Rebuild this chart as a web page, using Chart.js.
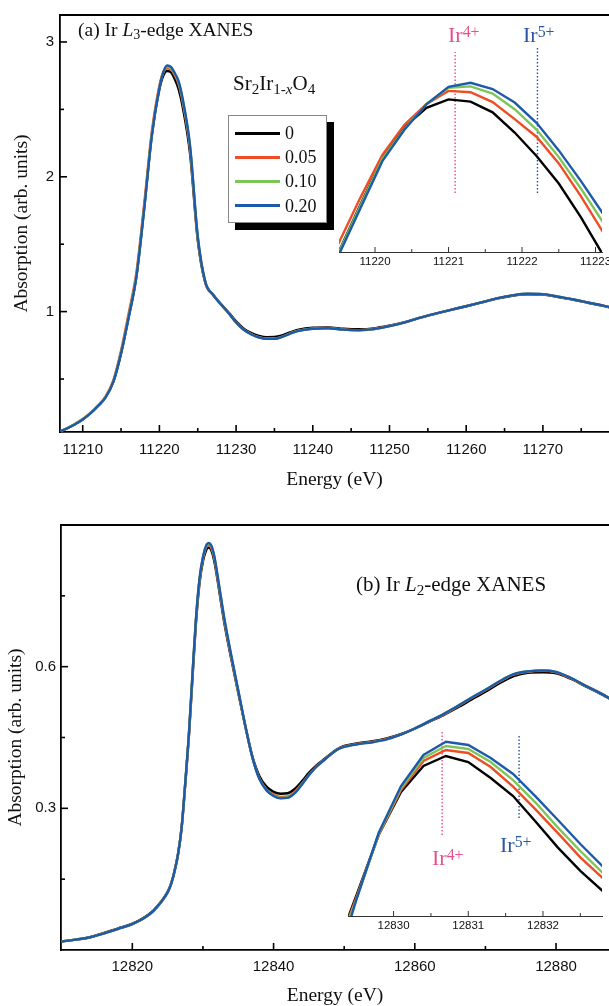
<!DOCTYPE html>
<html>
<head>
<meta charset="utf-8">
<title>Sr2Ir1-xO4 Ir L-edge XANES</title>
<script src="https://cdn.jsdelivr.net/npm/chart.js@4/dist/chart.umd.min.js"></script>
<style>
  body { margin: 0; background: #fff; }
  #page { position: relative; width: 609px; height: 1006px; overflow: hidden;
          font-family: 'Liberation Serif', 'Times New Roman', serif; color: #111; }
  canvas { position: absolute; }
  .lbl { position: absolute; line-height: 1; white-space: nowrap; z-index: 3; }
  .lbl .dn { position: relative; top: 0.24em; font-size: 0.72em; }
  .lbl .up { position: relative; top: -0.3em; font-size: 0.72em; }
  #legendBox { position: absolute; left: 228px; top: 115px; width: 97px; height: 106px;
               border: 1px solid #888; background: #fff; box-shadow: 7px 7px 0 #000; z-index: 2; }
  .swatch { position: absolute; left: 235px; width: 45px; height: 2.5px; z-index: 3; }
</style>
</head>
<body>
<div id="page">
  <canvas id="chartL3" width="609" height="500" style="left:0;top:0;width:609px;height:500px"></canvas>
  <canvas id="chartL3Zoom" width="283" height="244" style="left:339px;top:30px;width:283px;height:244px"></canvas>
  <canvas id="chartL2" width="609" height="506" style="left:0;top:500px;width:609px;height:506px"></canvas>
  <canvas id="chartL2Zoom" width="274" height="238" style="left:348px;top:700px;width:274px;height:238px"></canvas>

  <div class="lbl" style="left:78px;top:20px;font-size:19.5px">(a) Ir <i>L</i><span class="dn">3</span>-edge XANES</div>
  <div class="lbl" style="left:356px;top:574px;font-size:21px">(b) Ir <i>L</i><span class="dn">2</span>-edge XANES</div>

  <div class="lbl" style="left:233px;top:73px;font-size:21px">Sr<span class="dn">2</span>Ir<span class="dn">1-<i>x</i></span>O<span class="dn">4</span></div>
  <div id="legendBox"></div>

  <div class="lbl" style="left:448px;top:24px;font-size:22px;color:#e8508c">Ir<span class="up">4+</span></div>
  <div class="lbl" style="left:523px;top:24px;font-size:22px;color:#2c58a2">Ir<span class="up">5+</span></div>
  <div class="lbl" style="left:432px;top:847px;font-size:22px;color:#e8508c">Ir<span class="up">4+</span></div>
  <div class="lbl" style="left:500px;top:834px;font-size:22px;color:#2c58a2">Ir<span class="up">5+</span></div>
</div>

<script>
// Doping levels x in Sr2Ir(1-x)O4 and their line colours
const seriesLabels = ['0', '0.05', '0.10', '0.20'];
const seriesColors = ['#000000', '#ee4d25', '#7dc558', '#1d5aab'];

// Ir L3 edge, full range
const energyL3 = [11207, 11208, 11209, 11210, 11211, 11212, 11213, 11214, 11215, 11216, 11217, 11218, 11219, 11220,
  11220.5, 11221, 11221.5, 11222, 11222.5, 11223, 11224, 11225, 11226, 11227, 11228, 11229, 11230, 11231, 11232,
  11233, 11234, 11235, 11236, 11237, 11238, 11240, 11242, 11244, 11246, 11248, 11250, 11252, 11254, 11256, 11258,
  11260, 11262, 11264, 11266, 11268, 11270, 11272, 11274, 11276, 11278, 11279];
const absL3_x0 = [0.110, 0.135, 0.165, 0.200, 0.245, 0.300, 0.365, 0.480, 0.690, 0.960, 1.260, 1.760, 2.300, 2.650,
  2.750, 2.785, 2.775, 2.725, 2.650, 2.530, 2.170, 1.530, 1.210, 1.125, 1.058, 0.995, 0.928, 0.874, 0.840,
  0.820, 0.811, 0.812, 0.824, 0.845, 0.864, 0.881, 0.883, 0.873, 0.869, 0.876, 0.896, 0.922, 0.955, 0.985, 1.013,
  1.040, 1.068, 1.097, 1.118, 1.128, 1.127, 1.108, 1.088, 1.064, 1.041, 1.028];
const absL3_x005 = [0.110, 0.136, 0.167, 0.203, 0.249, 0.305, 0.372, 0.492, 0.712, 0.990, 1.290, 1.790, 2.330, 2.675,
  2.775, 2.805, 2.798, 2.752, 2.688, 2.566, 2.205, 1.545, 1.215, 1.123, 1.055, 0.990, 0.920, 0.866, 0.832,
  0.810, 0.800, 0.800, 0.814, 0.837, 0.857, 0.875, 0.878, 0.867, 0.863, 0.871, 0.893, 0.920, 0.955, 0.985, 1.013,
  1.040, 1.068, 1.098, 1.120, 1.131, 1.129, 1.109, 1.089, 1.065, 1.042, 1.029];
const absL3_x010 = [0.110, 0.135, 0.166, 0.201, 0.246, 0.302, 0.367, 0.484, 0.696, 0.968, 1.268, 1.760, 2.310, 2.665,
  2.775, 2.815, 2.808, 2.762, 2.700, 2.580, 2.220, 1.552, 1.218, 1.124, 1.055, 0.990, 0.920, 0.865, 0.831,
  0.809, 0.799, 0.799, 0.813, 0.836, 0.856, 0.874, 0.877, 0.866, 0.862, 0.870, 0.892, 0.920, 0.955, 0.985, 1.013,
  1.040, 1.068, 1.098, 1.120, 1.132, 1.130, 1.110, 1.090, 1.066, 1.043, 1.030];
const absL3_x020 = [0.110, 0.135, 0.165, 0.200, 0.245, 0.300, 0.365, 0.480, 0.690, 0.960, 1.260, 1.750, 2.300, 2.660,
  2.775, 2.825, 2.815, 2.770, 2.710, 2.590, 2.230, 1.560, 1.220, 1.125, 1.055, 0.990, 0.920, 0.865, 0.830,
  0.808, 0.798, 0.798, 0.812, 0.835, 0.855, 0.873, 0.877, 0.866, 0.862, 0.870, 0.892, 0.920, 0.955, 0.985, 1.013,
  1.040, 1.068, 1.098, 1.120, 1.132, 1.130, 1.110, 1.090, 1.066, 1.043, 1.030];

// Ir L3 white-line top, zoomed
const energyL3Zoom = [11219.5, 11219.8, 11220.1, 11220.4, 11220.7, 11221.0, 11221.3, 11221.6, 11221.9, 11222.2, 11222.5, 11222.8, 11223.1];
const zoomL3_x0   = [2.448, 2.555, 2.660, 2.729, 2.772, 2.791, 2.786, 2.762, 2.717, 2.664, 2.603, 2.528, 2.444];
const zoomL3_x005 = [2.468, 2.571, 2.667, 2.734, 2.781, 2.810, 2.807, 2.785, 2.747, 2.707, 2.648, 2.575, 2.495];
const zoomL3_x010 = [2.446, 2.553, 2.658, 2.725, 2.781, 2.817, 2.820, 2.804, 2.769, 2.723, 2.662, 2.592, 2.517];
const zoomL3_x020 = [2.441, 2.547, 2.653, 2.723, 2.780, 2.819, 2.828, 2.814, 2.784, 2.738, 2.677, 2.609, 2.536];

// Ir L2 edge, full range
const energyL2 = [12810, 12812, 12814, 12816, 12818, 12820, 12821, 12822, 12823, 12824, 12825, 12825.5, 12826, 12826.5,
  12827, 12827.5, 12828, 12828.5, 12829, 12829.5, 12830, 12830.5, 12830.8, 12831.2, 12831.6, 12832, 12832.5, 12833,
  12834, 12835, 12836, 12837, 12838, 12839, 12840, 12841, 12842, 12843, 12844, 12845, 12846, 12847, 12848, 12849,
  12850, 12852, 12854, 12856, 12858, 12860, 12862, 12864, 12866, 12868, 12870, 12872, 12874, 12876, 12878, 12880,
  12882, 12884, 12886, 12888];
const absL2_x0 = [0.018, 0.022, 0.027, 0.036, 0.046, 0.056, 0.063, 0.072, 0.084, 0.101, 0.123, 0.141, 0.169, 0.206,
  0.262, 0.352, 0.450, 0.572, 0.690, 0.775, 0.823, 0.848, 0.852, 0.846, 0.824, 0.790, 0.742, 0.695,
  0.617, 0.545, 0.474, 0.410, 0.368, 0.346, 0.335, 0.331, 0.332, 0.341, 0.357, 0.375, 0.390, 0.402, 0.414, 0.425,
  0.432, 0.438, 0.442, 0.448, 0.457, 0.469, 0.483, 0.497, 0.513, 0.530, 0.547, 0.565, 0.580, 0.587, 0.588, 0.586,
  0.575, 0.560, 0.545, 0.529];
const absL2_x005 = [0.018, 0.022, 0.027, 0.035, 0.045, 0.055, 0.062, 0.071, 0.083, 0.100, 0.122, 0.140, 0.168, 0.205,
  0.262, 0.354, 0.453, 0.577, 0.696, 0.781, 0.829, 0.854, 0.857, 0.851, 0.830, 0.795, 0.747, 0.700,
  0.621, 0.547, 0.474, 0.408, 0.363, 0.340, 0.329, 0.324, 0.325, 0.335, 0.352, 0.371, 0.388, 0.401, 0.413, 0.424,
  0.431, 0.437, 0.441, 0.447, 0.456, 0.469, 0.484, 0.498, 0.515, 0.533, 0.550, 0.568, 0.583, 0.589, 0.591, 0.588,
  0.576, 0.561, 0.546, 0.530];
const absL2_x010 = [0.018, 0.022, 0.027, 0.035, 0.045, 0.055, 0.062, 0.071, 0.083, 0.100, 0.122, 0.140, 0.168, 0.205,
  0.262, 0.355, 0.454, 0.579, 0.698, 0.783, 0.831, 0.856, 0.860, 0.854, 0.833, 0.798, 0.750, 0.703,
  0.623, 0.549, 0.475, 0.408, 0.362, 0.339, 0.327, 0.322, 0.323, 0.333, 0.351, 0.370, 0.387, 0.400, 0.413, 0.424,
  0.430, 0.436, 0.440, 0.446, 0.456, 0.469, 0.484, 0.499, 0.516, 0.534, 0.551, 0.569, 0.584, 0.590, 0.592, 0.589,
  0.577, 0.561, 0.546, 0.530];
const absL2_x020 = [0.018, 0.022, 0.027, 0.035, 0.045, 0.055, 0.062, 0.071, 0.083, 0.100, 0.122, 0.140, 0.168, 0.205,
  0.262, 0.355, 0.455, 0.580, 0.700, 0.785, 0.833, 0.858, 0.862, 0.856, 0.835, 0.800, 0.752, 0.705,
  0.625, 0.550, 0.475, 0.408, 0.362, 0.338, 0.326, 0.321, 0.322, 0.332, 0.350, 0.370, 0.387, 0.400, 0.413, 0.424,
  0.430, 0.436, 0.440, 0.446, 0.456, 0.469, 0.484, 0.499, 0.516, 0.534, 0.551, 0.569, 0.584, 0.590, 0.592, 0.589,
  0.577, 0.561, 0.546, 0.530];

// Ir L2 white-line top, zoomed
const energyL2Zoom = [12829.4, 12829.5, 12829.8, 12830.1, 12830.4, 12830.7, 12831.0, 12831.3, 12831.6, 12831.9, 12832.2, 12832.5, 12832.8];
const zoomL2_x0   = [0.7400, 0.7540, 0.7967, 0.8268, 0.8450, 0.8520, 0.8478, 0.8366, 0.8240, 0.8061, 0.7879, 0.7716, 0.7575];
const zoomL2_x005 = [0.7386, 0.7526, 0.7967, 0.8282, 0.8485, 0.8562, 0.8541, 0.8443, 0.8305, 0.8146, 0.7980, 0.7810, 0.7666];
const zoomL2_x010 = [0.7372, 0.7512, 0.7974, 0.8296, 0.8506, 0.8590, 0.8569, 0.8478, 0.8351, 0.8194, 0.8019, 0.7855, 0.7701];
const zoomL2_x020 = [0.7337, 0.7512, 0.7981, 0.8310, 0.8527, 0.8620, 0.8597, 0.8506, 0.8394, 0.8237, 0.8072, 0.7904, 0.7747];

// Axis limits and tick values
const rangeL3Energy = [11207.04, 11278.62];
const rangeL3Abs = [0.107, 3.2];
const ticksL3Energy = [11210, 11220, 11230, 11240, 11250, 11260, 11270];
const minorL3Energy = [11215, 11225, 11235, 11245, 11255, 11265, 11275];
const ticksL3Abs = [1, 2, 3];
const minorL3Abs = [0.5, 1.5, 2.5];

const rangeL3Zoom = [11219.51, 11223.088];
const rangeL3ZoomAbs = [2.450, 2.946];
const ticksL3Zoom = [11220, 11221, 11222, 11223];
const minorL3Zoom = [11220.5, 11221.5, 11222.5];

const rangeL2Energy = [12809.9, 12887.5];
const rangeL2Abs = [0, 0.9];
const ticksL2Energy = [12820, 12840, 12860, 12880];
const minorL2Energy = [12830, 12850, 12870];
const ticksL2Abs = [0.3, 0.6];
const minorL2Abs = [0.15, 0.45, 0.75];

const rangeL2Zoom = [12829.39, 12832.79];
const rangeL2ZoomAbs = [0.740, 0.8912];
const ticksL2Zoom = [12830, 12831, 12832];
const minorL2Zoom = [12830.5, 12831.5, 12832.5];

// Ir4+ / Ir5+ reference energies (dotted markers) and their vertical extent
const oxColors = ['#f0468c', '#2850a0'];
const oxEnergyL3 = [11221.09, 11222.21];
const oxSpanL3 = [[2.582, 2.897], [2.582, 2.908]];
const oxEnergyL2 = [12830.65, 12831.68];
const oxSpanL2 = [[0.7967, 0.869], [0.8086, 0.8667]];

const SANS = "'Liberation Sans', Arial, sans-serif";
const SERIF = "'Liberation Serif', 'Times New Roman', serif";

// Tick marks drawn on the inside of the axes
const inwardTicks = {
  id: 'inwardTicks',
  afterDatasetsDraw(chart, args, opts) {
    const ctx = chart.ctx;
    ctx.save();
    ctx.strokeStyle = opts.color;
    ctx.lineWidth = opts.width;
    ['x', 'y'].forEach(id => {
      const spec = opts[id];
      if (!spec) return;
      const scale = chart.scales[id];
      const draw = (vals, len) => vals.forEach(v => {
        const p = scale.getPixelForValue(v);
        ctx.beginPath();
        if (id === 'x') {
          ctx.moveTo(p, scale.top);
          ctx.lineTo(p, scale.top - len);
        } else {
          ctx.moveTo(scale.right, p);
          ctx.lineTo(scale.right + len, p);
        }
        ctx.stroke();
      });
      draw(spec.major, opts.len);
      draw(spec.minor, opts.minorLen);
    });
    ctx.restore();
  }
};

// Top edge of the frame
const frameTop = {
  id: 'frameTop',
  afterDraw(chart, args, opts) {
    if (!opts.width) return;
    const { ctx, chartArea } = chart;
    ctx.save();
    ctx.strokeStyle = '#000';
    ctx.lineWidth = opts.width;
    ctx.beginPath();
    ctx.moveTo(chartArea.left - opts.width / 2, chartArea.top);
    ctx.lineTo(chartArea.right, chartArea.top);
    ctx.stroke();
    ctx.restore();
  }
};

// Dotted vertical markers for the oxidation states
const markerLines = {
  id: 'markerLines',
  beforeDatasetsDraw(chart, args, opts) {
    if (!opts.energies) return;
    const { ctx, scales: { x, y } } = chart;
    ctx.save();
    ctx.lineWidth = 1.4;
    ctx.setLineDash([1.5, 2]);
    opts.energies.forEach((e, i) => {
      const px = x.getPixelForValue(e);
      ctx.strokeStyle = oxColors[i];
      ctx.beginPath();
      ctx.moveTo(px, y.getPixelForValue(opts.spans[i][0]));
      ctx.lineTo(px, y.getPixelForValue(opts.spans[i][1]));
      ctx.stroke();
    });
    ctx.restore();
  }
};

function buildSeries(xs, ys, i, smooth, width) {
  return {
    label: seriesLabels[i],
    data: xs.map((x, k) => ({ x: x, y: ys[k] })),
    borderColor: seriesColors[i],
    borderWidth: width,
    pointRadius: 0,
    fill: false,
    tension: 0,
    cubicInterpolationMode: smooth ? 'monotone' : 'default',
    order: seriesLabels.length - i   // 0.20 ends up on top
  };
}

function energyAxis(o) {
  return {
    type: 'linear',
    min: o.range[0],
    max: o.range[1],
    afterBuildTicks: s => { s.ticks = o.ticks.map(v => ({ value: v })); },
    afterFit: s => { s.height = o.height; },
    grid: { display: false, drawTicks: false },
    border: { display: true, color: o.lineColor, width: o.lineWidth },
    ticks: {
      padding: o.pad, color: '#111', autoSkip: false, maxRotation: 0,
      font: { family: SANS, size: o.fontSize },
      callback: v => String(v)
    },
    title: o.title ? {
      display: true, text: o.title, color: '#111',
      font: { family: SERIF, size: 19.5, lineHeight: 1 },
      padding: { top: 0, bottom: o.titlePad }
    } : { display: false }
  };
}

function absAxis(o) {
  return {
    type: 'linear',
    min: o.range[0],
    max: o.range[1],
    afterBuildTicks: s => { s.ticks = o.ticks.map(v => ({ value: v })); },
    afterFit: s => { s.width = o.width; },
    grid: { display: false, drawTicks: false },
    border: { display: true, color: '#000', width: 1.8 },
    ticks: {
      padding: o.pad, color: '#111', autoSkip: false,
      font: { family: SANS, size: 15 },
      callback: v => String(v)
    },
    title: {
      display: true, text: 'Absorption (arb. units)', color: '#111',
      font: { family: SERIF, size: 19.5, lineHeight: 1 },
      padding: { top: o.titlePad, bottom: 0 }
    }
  };
}

function baseOptions(extra) {
  return Object.assign({
    responsive: false,
    animation: false,
    events: [],
    plugins: { legend: { display: false }, tooltip: { enabled: false } }
  }, extra);
}

function mainChart(id, energy, series, o) {
  return new Chart(document.getElementById(id), {
    type: 'line',
    data: { datasets: series.map((ys, i) => buildSeries(energy, ys, i, true, 2.4)) },
    options: baseOptions({
      layout: { padding: { top: o.padTop, left: 0, right: 0, bottom: 0 } },
      scales: {
        x: energyAxis({ range: o.xRange, ticks: o.xTicks, height: o.xHeight, pad: o.xPad,
          lineColor: '#000', lineWidth: 1.8, fontSize: 15, title: 'Energy (eV)', titlePad: o.titlePad }),
        y: absAxis({ range: o.yRange, ticks: o.yTicks, width: o.yWidth, pad: o.yPad, titlePad: o.yTitlePad })
      },
      plugins: {
        legend: { display: false }, tooltip: { enabled: false },
        frameTop: { width: 1.8 },
        inwardTicks: { color: '#000', width: 1.6, len: 7, minorLen: 4,
          x: { major: o.xTicks, minor: o.xMinor }, y: { major: o.yTicks, minor: o.yMinor } }
      }
    }),
    plugins: [inwardTicks, frameTop]
  });
}

function zoomChart(id, energy, series, o) {
  return new Chart(document.getElementById(id), {
    type: 'line',
    data: { datasets: series.map((ys, i) => buildSeries(energy, ys, i, false, 2.4)) },
    options: baseOptions({
      layout: { padding: { top: 0, left: 0, right: 20, bottom: 0 } },
      scales: {
        x: energyAxis({ range: o.xRange, ticks: o.xTicks, height: 22, pad: 3,
          lineColor: '#333', lineWidth: 1, fontSize: 11.5 }),
        y: { type: 'linear', display: false, min: o.yRange[0], max: o.yRange[1] }
      },
      plugins: {
        legend: { display: false }, tooltip: { enabled: false },
        markerLines: { energies: o.oxEnergy, spans: o.oxSpan },
        inwardTicks: { color: '#333', width: 1, len: 5, minorLen: 3,
          x: { major: o.xTicks, minor: o.xMinor } }
      }
    }),
    plugins: [inwardTicks, markerLines]
  });
}

mainChart('chartL3', energyL3, [absL3_x0, absL3_x005, absL3_x010, absL3_x020], {
  padTop: 12, xRange: rangeL3Energy, xTicks: ticksL3Energy, xMinor: minorL3Energy,
  xHeight: 68, xPad: 9, titlePad: 10.5,
  yRange: rangeL3Abs, yTicks: ticksL3Abs, yMinor: minorL3Abs, yWidth: 60, yPad: 6, yTitlePad: 12
});

zoomChart('chartL3Zoom', energyL3Zoom, [zoomL3_x0, zoomL3_x005, zoomL3_x010, zoomL3_x020], {
  xRange: rangeL3Zoom, xTicks: ticksL3Zoom, xMinor: minorL3Zoom, yRange: rangeL3ZoomAbs,
  oxEnergy: oxEnergyL3, oxSpan: oxSpanL3
});

mainChart('chartL2', energyL2, [absL2_x0, absL2_x005, absL2_x010, absL2_x020], {
  padTop: 25, xRange: rangeL2Energy, xTicks: ticksL2Energy, xMinor: minorL2Energy,
  xHeight: 56, xPad: 8, titlePad: 0,
  yRange: rangeL2Abs, yTicks: ticksL2Abs, yMinor: minorL2Abs, yWidth: 61, yPad: 5, yTitlePad: 6.5
});

zoomChart('chartL2Zoom', energyL2Zoom, [zoomL2_x0, zoomL2_x005, zoomL2_x010, zoomL2_x020], {
  xRange: rangeL2Zoom, xTicks: ticksL2Zoom, xMinor: minorL2Zoom, yRange: rangeL2ZoomAbs,
  oxEnergy: oxEnergyL2, oxSpan: oxSpanL2
});

// Legend rows: line sample plus doping level
const page = document.getElementById('page');
seriesLabels.forEach((label, i) => {
  const cy = 133.3 + i * 24.1;
  const sw = document.createElement('div');
  sw.className = 'swatch';
  sw.style.top = (cy - 1.25) + 'px';
  sw.style.background = seriesColors[i];
  page.appendChild(sw);
  const tx = document.createElement('div');
  tx.className = 'lbl';
  tx.style.left = '285px';
  tx.style.top = (cy - 9.1) + 'px';
  tx.style.fontSize = '18px';
  tx.textContent = label;
  page.appendChild(tx);
});
</script>
</body>
</html>
